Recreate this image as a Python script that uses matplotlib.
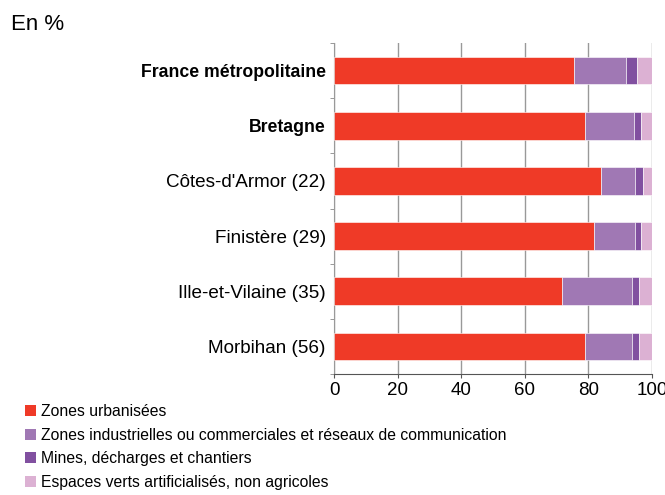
import matplotlib.pyplot as plt
from matplotlib.patches import Patch
import numpy as np

plt.rcParams['font.family'] = ['Liberation Sans', 'DejaVu Sans']

# ---- data (en %) ----
regions = ['France métropolitaine', 'Bretagne', "Côtes-d'Armor (22)",
           'Finistère (29)', 'Ille-et-Vilaine (35)', 'Morbihan (56)']
urbain = [75.5, 78.8, 84.0, 81.8, 71.6, 78.8]
industriel = [16.4, 15.4, 10.8, 13.0, 22.2, 15.0]
mines = [3.4, 2.2, 2.4, 1.6, 2.0, 2.0]
espaces_verts = [4.7, 3.6, 2.8, 3.6, 4.2, 4.2]

series_labels = ['Zones urbanisées',
                 'Zones industrielles ou commerciales et réseaux de communication',
                 'Mines, décharges et chantiers',
                 'Espaces verts artificialisés, non agricoles']
colors = ['#EF3A27', '#A078B4', '#8150A0', '#DCB1D3']

# ---- figure ----
fig = plt.figure(figsize=(6.65, 4.95), dpi=100)
ax = fig.add_axes([334 / 665, 1 - 374 / 495, 318 / 665, 331 / 495])

y = np.arange(len(regions))
left = np.zeros(len(regions))
for vals, col in zip([urbain, industriel, mines, espaces_verts], colors):
    ax.barh(y, vals, left=left, height=0.5, color=col, edgecolor='white',
            linewidth=0.4, zorder=3)
    left += np.array(vals)

ax.set_xlim(0, 100)
ax.set_ylim(len(regions) - 0.5, -0.5)
ax.set_xticks([0, 20, 40, 60, 80, 100])
ax.tick_params(axis='x', labelsize=13.5, length=3, color='#555555', pad=3)
ax.set_yticks(y)
ax.set_yticklabels(regions, fontsize=13.6)
ax.tick_params(axis='y', length=0, pad=6)
ax.set_yticks(np.arange(-0.5, len(regions)), minor=True)
ax.tick_params(axis='y', which='minor', length=3, color='#888888')
for i, lab in enumerate(ax.get_yticklabels()):
    if i < 2:
        lab.set_fontweight('bold')
        lab.set_fontsize(12.7)

ax.grid(axis='x', color='#999999', linewidth=1.0, zorder=0)
for s in ['top', 'right']:
    ax.spines[s].set_visible(False)
ax.spines['left'].set_color('#999999')
ax.spines['bottom'].set_color('#555555')

fig.text(11 / 665, 1 - 25 / 495, 'En %', fontsize=16, va='center', ha='left')

handles = [Patch(facecolor=c, edgecolor='none') for c in colors]
fig.legend(handles, series_labels, loc='upper left',
           bbox_to_anchor=(25 / 665, 1 - 404 / 495), frameon=False,
           fontsize=11.3, handlelength=0.72, handleheight=0.72, handletextpad=0.3,
           labelspacing=0.55, borderaxespad=0, borderpad=0)

fig.savefig('out.png', dpi=100)
